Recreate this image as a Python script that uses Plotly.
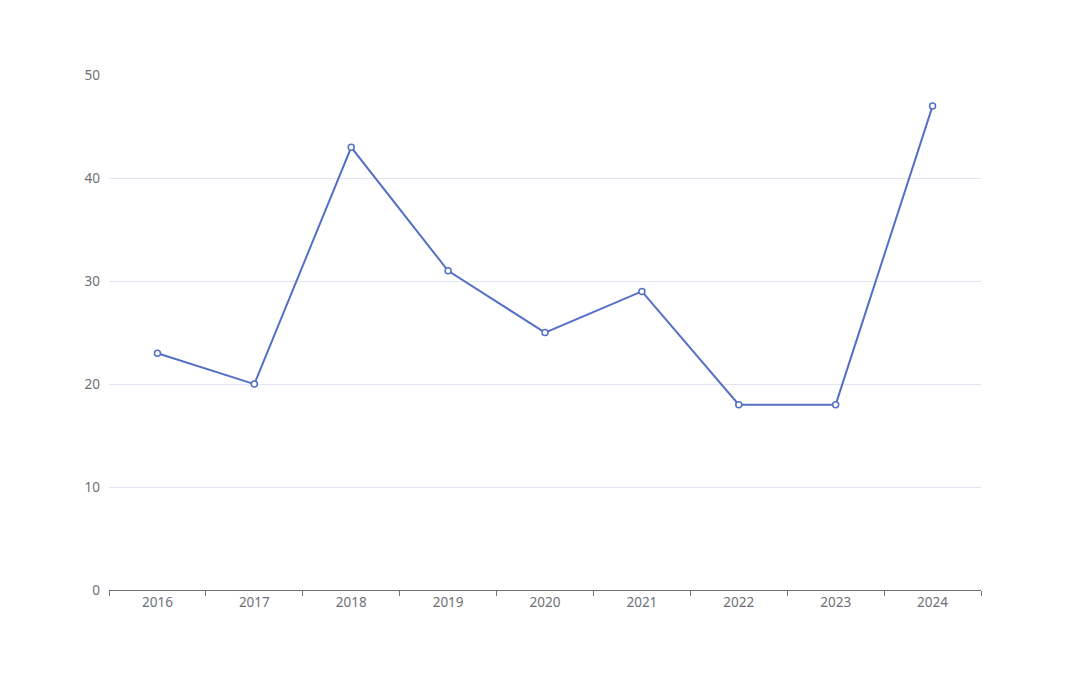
import plotly.graph_objects as go

years = ["2016", "2017", "2018", "2019", "2020", "2021", "2022", "2023", "2024"]
values = [23, 20, 43, 31, 25, 29, 18, 18, 47]

fig = go.Figure(go.Scatter(
    x=years, y=values, mode="lines+markers",
    line=dict(color="#5470c6", width=2),
    marker=dict(symbol="circle", size=6, color="white", line=dict(color="#5470c6", width=1.5)),
))
fig.update_layout(
    width=1090, height=677, plot_bgcolor="white", paper_bgcolor="white",
    margin=dict(l=101, r=117, t=67, b=95), showlegend=False,
    font=dict(family="Noto Sans, sans-serif", size=13.5, color="#6E7079"),
)
fig.update_xaxes(type="category", tickson="boundaries", ticks="outside", ticklen=5,
                 tickcolor="#6E7079", showline=True, linecolor="#6E7079", linewidth=1,
                 showgrid=False, range=[-0.5, 8.5])
fig.update_yaxes(range=[0, 50.02], tickvals=[0, 10, 20, 30, 40, 50], showgrid=True,
                 gridcolor="#E0E6F1", zeroline=False, showline=False, ticks="",
                 ticklabelstandoff=8)
fig.write_html("out.html")
